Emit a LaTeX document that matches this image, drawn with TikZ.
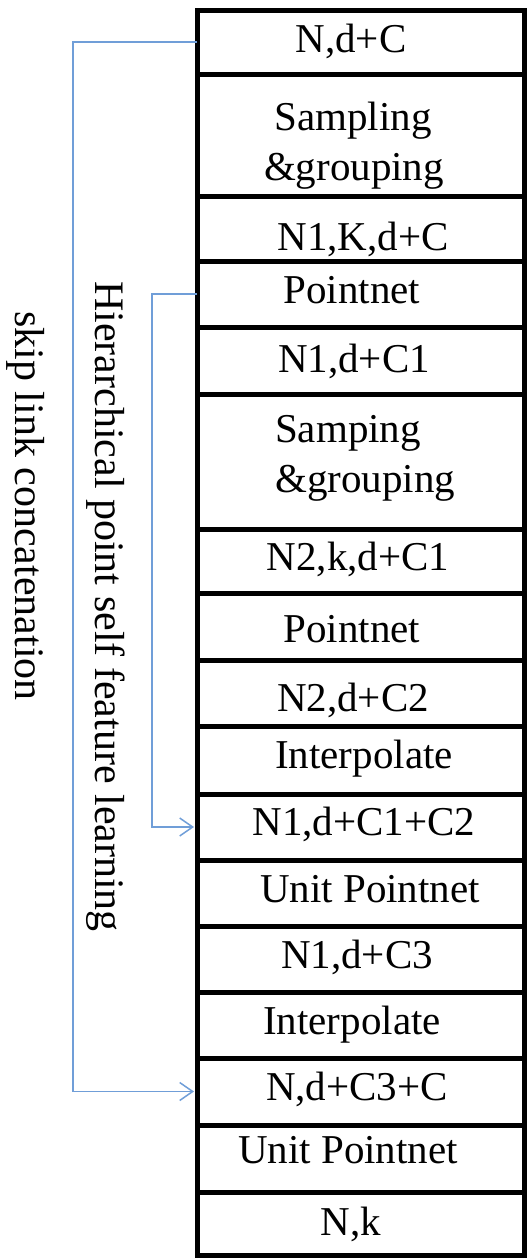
\documentclass[tikz,border=0pt]{standalone}
\usepackage{fontspec}
\setmainfont{Liberation Serif}
\usetikzlibrary{arrows.meta}
\definecolor{linkblue}{RGB}{112,158,216}
\tikzset{
  rowbox/.style={draw=black, line width=5pt, minimum width=327pt, inner sep=0pt, outer sep=0pt},
  lbl/.style={anchor=base, inner sep=0pt, font=\fontsize{41}{49}\selectfont},
  lbll/.style={anchor=base west, inner sep=0pt, font=\fontsize{41}{49}\selectfont},
  side/.style={rotate=-90, anchor=base west, inner sep=0pt, font=\fontsize{42}{50}\selectfont},
  link/.style={draw=linkblue, line width=1.5pt, -{Straight Barb[length=13pt,width=18pt]}, shorten >=3pt}
}
\begin{document}
\begin{tikzpicture}[x=1pt,y=-1pt]
\useasboundingbox (0,0) rectangle (528,1258);
% rows
\node[rowbox, minimum height=64pt]  (r1)  at (360.5,42) {};
\node[rowbox, minimum height=122pt] (r2)  at (360.5,135) {};
\node[rowbox, minimum height=65pt]  (r3)  at (360.5,228.5) {};
\node[rowbox, minimum height=66pt]  (r4)  at (360.5,294) {};
\node[rowbox, minimum height=67pt]  (r5)  at (360.5,360.5) {};
\node[rowbox, minimum height=135pt] (r6)  at (360.5,461.5) {};
\node[rowbox, minimum height=64pt]  (r7)  at (360.5,561) {};
\node[rowbox, minimum height=67pt]  (r8)  at (360.5,626.5) {};
\node[rowbox, minimum height=66pt]  (r9)  at (360.5,693) {};
\node[rowbox, minimum height=68pt]  (r10) at (360.5,760) {};
\node[rowbox, minimum height=66pt]  (r11) at (360.5,827) {};
\node[rowbox, minimum height=66pt]  (r12) at (360.5,893) {};
\node[rowbox, minimum height=66pt]  (r13) at (360.5,959) {};
\node[rowbox, minimum height=66pt]  (r14) at (360.5,1025) {};
\node[rowbox, minimum height=67pt]  (r15) at (360.5,1091.5) {};
\node[rowbox, minimum height=67pt]  (r16) at (360.5,1158.5) {};
\node[rowbox, minimum height=63pt]  (r17) at (360.5,1223.5) {};
% labels
\node[lbl] (t1)  at (351,52)   {N,d+C};
\node[lbl] (t2a) at (353,130)  {Sampling};
\node[lbl] (t2b) at (354,180)  {\&grouping};
\node[lbl] (t3)  at (363,250)  {N1,K,d+C};
\node[lbl] (t4)  at (352,303)  {Pointnet};
\node[lbl] (t5)  at (354,372)  {N1,d+C1};
\node[lbll] (t6a) at (275,442) {Samping};
\node[lbll] (t6b) at (275,492) {\&grouping};
\node[lbl] (t7)  at (358,570)  {N2,k,d+C1};
\node[lbl] (t8)  at (352,642)  {Pointnet};
\node[lbl] (t9)  at (353,711)  {N2,d+C2};
\node[lbl] (t10) at (364,768)  {Interpolate};
\node[lbl] (t11) at (364,835)  {N1,d+C1+C2};
\node[lbl] (t12) at (370,902)  {Unit Pointnet};
\node[lbl] (t13) at (357,968)  {N1,d+C3};
\node[lbl] (t14) at (352,1034) {Interpolate};
\node[lbl] (t15) at (357,1100) {N,d+C3+C};
\node[lbl] (t16) at (348,1163) {Unit Pointnet};
\node[lbl] (t17) at (351,1235) {N,k};
% side texts
\node[side] (s1) at (15,311) {skip link concatenation};
\node[side] (s2) at (95,281) {Hierarchical point self feature learning};
% links
\draw[link] (r1.west) -- ++(-124,0) |- (r15.west);
\draw[link] (r4.west) -- ++(-45,0) |- (r11.west);
\end{tikzpicture}
\end{document}
